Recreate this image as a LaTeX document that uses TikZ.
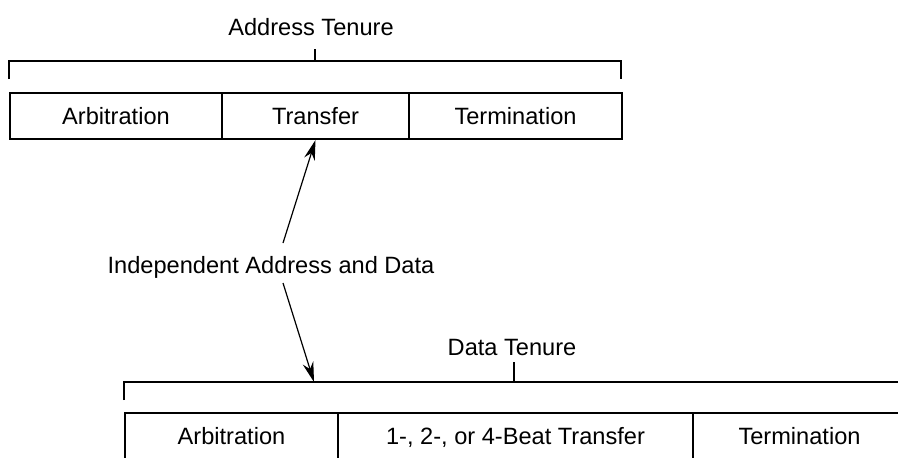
\documentclass[tikz,border=0pt]{standalone}
\usepackage{fontspec}
\setmainfont{Liberation Sans}
\usetikzlibrary{arrows.meta}
\begin{document}
\begin{tikzpicture}[x=0.5pt,y=-0.5pt,
  every node/.style={font=\fontsize{11.8}{14}\selectfont, inner sep=0pt},
  cell/.style={draw, line width=1pt, minimum height=23pt, anchor=north west},
  bracket/.style={draw, line width=1pt},
  arr/.style={line width=0.6pt, -{Stealth[length=10pt,width=5.5pt]}}]
\useasboundingbox (0,0) rectangle (898,457);
\clip (0,0) rectangle (898,457);
% Address tenure bracket
\node (addrlabel) at (311,27) {Address Tenure};
\draw[bracket] (9,79) -- (9,61) -- (621,61) -- (621,79);
\draw[bracket] (315,61) -- (315,49);
% Address tenure cells
\node[cell, minimum width=106pt] (arb1) at (9,92) {Arbitration};
\node[cell, minimum width=93.5pt] (xfer1) at (221,92) {Transfer};
\node[cell, minimum width=106.5pt] (term1) at (408,92) {Termination};
% label
\node (indep) at (271,267) {Independent Address and Data};
\coordinate (a1) at (283,243);
\coordinate (a2) at (283,283);
% Data tenure bracket
\node (datalabel) at (512,347) {Data Tenure};
\draw[bracket] (124,400) -- (124,382) -- (910,382);
\draw[bracket] (514,382) -- (514,362);
\coordinate (dataend) at (314,382);
% Data tenure cells
\node[cell, minimum width=106.5pt, minimum height=30pt] (arb2) at (124,412) {\raisebox{7pt}{Arbitration}};
\node[cell, minimum width=177.5pt, minimum height=30pt] (xfer2) at (337,412) {\raisebox{7pt}{1-, 2-, or 4-Beat Transfer}};
\node[cell, minimum width=106.5pt, minimum height=30pt] (term2) at (692,412) {\raisebox{7pt}{Termination}};
% arrows
\draw[arr] (a1) -- (xfer1.south);
\draw[arr] (a2) -- (dataend);
\end{tikzpicture}
\end{document}
